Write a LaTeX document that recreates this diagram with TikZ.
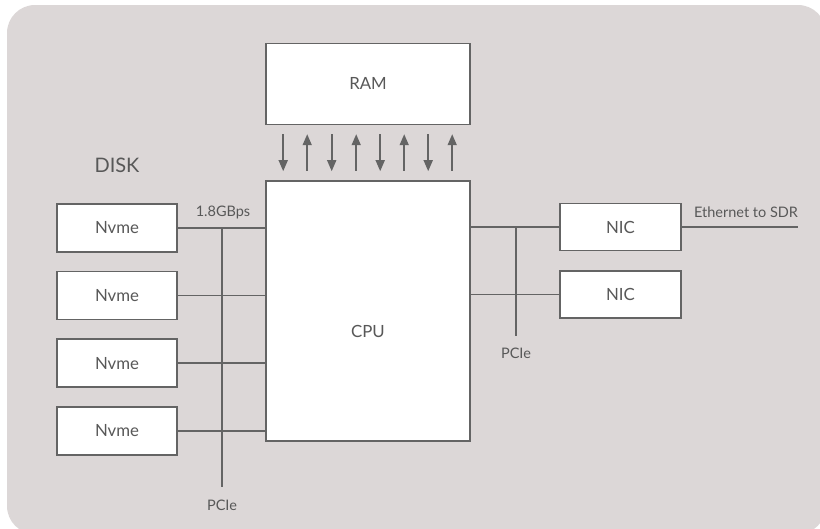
\documentclass[tikz,border=0pt]{standalone}
\usepackage{fontspec}
\setmainfont{Lato}
\usepackage{xcolor}
\usepackage{tikz}
\usetikzlibrary{positioning, arrows.meta, calc}

\definecolor{panel}{RGB}{220,215,215}
\definecolor{wiregray}{RGB}{100,100,100}
\definecolor{textgray}{RGB}{88,88,88}

\begin{document}
\begin{tikzpicture}[
    x=1pt, y=-1pt,
    >={Triangle[length=11pt,width=9pt]},
    node distance=18pt,
    box/.style={
        draw=wiregray,
        fill=white,
        line width=1.6pt,
        minimum width=120pt,
        minimum height=48pt,
        align=center,
        text=textgray,
        font=\fontsize{16.8}{19}\selectfont
    },
    unit/.style={box, minimum width=204pt},
    nic/.style={box, minimum width=121pt, minimum height=47pt},
    wire/.style={draw=wiregray, line width=1.6pt},
    lbl/.style={text=textgray, font=\fontsize{14.5}{17}\selectfont}
]
  \useasboundingbox (0,0) rectangle (820,528);
  \fill[panel, rounded corners=28pt] (7,5) rectangle (826,534);

  \node[unit, minimum height=260pt] (cpu) at (368,311) {};
  \node[lbl, font=\fontsize{16.8}{19}\selectfont] (cpulbl) at (368,331) {CPU};
  \node[unit, minimum height=81pt, above=55pt of cpu] (ram) {RAM};

  \node[lbl, font=\fontsize{20}{22}\selectfont] (disk) at (117,165) {DISK};
  \node[box] (nvme1) at (117,228) {Nvme};
  \node[box, below=of nvme1] (nvme2) {Nvme};
  \node[box, below=of nvme2] (nvme3) {Nvme};
  \node[box, below=of nvme3] (nvme4) {Nvme};

  \node[nic] (nic1) at (620.5,227) {NIC};
  \node[nic, below=19pt of nic1] (nic2) {NIC};

  \foreach \dx/\tip in {18/->,42/<-,66.5/->,91/<-,115/->,139/<-,163/->,187/<-}
    \draw[wire, \tip] ([xshift=\dx pt, yshift=-9pt]ram.south west) -- ([xshift=\dx pt, yshift=9pt]cpu.north west);

  \foreach \n in {1,...,4}
    \draw[wire] (nvme\n.east) -- (nvme\n.east -| cpu.west);
  \coordinate (busL) at (222,487);
  \draw[wire] (nvme1.east -| busL) -- (busL);
  \node[lbl] (rate) at (223,212) {1.8GBps};
  \node[lbl] (pcieL) at (222,505) {PCIe};

  \foreach \n in {1,2}
    \draw[wire] (cpu.east |- nic\n.west) -- (nic\n.west);
  \coordinate (busR) at (516,336);
  \draw[wire] (nic1.west -| busR) -- (busR);
  \node[lbl] (pcieR) at (516,353) {PCIe};

  \coordinate (sdr) at (798,227);
  \draw[wire] (nic1.east) -- (sdr);
  \node[lbl] (eth) at (746,212) {Ethernet to SDR};
\end{tikzpicture}
\end{document}
